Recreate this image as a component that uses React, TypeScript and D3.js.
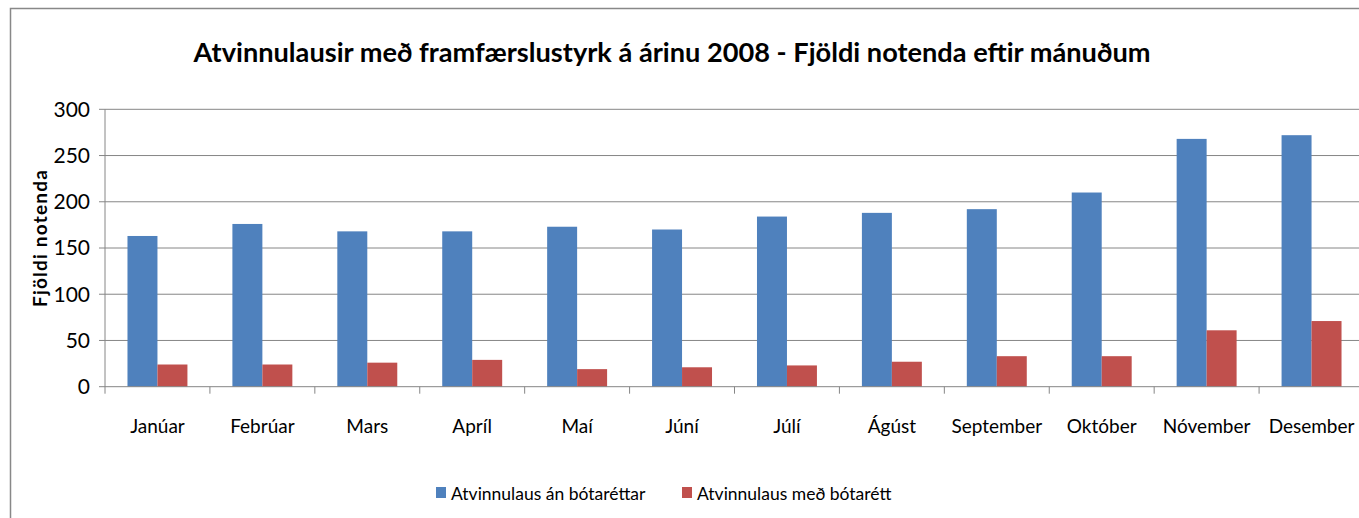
import React, { useEffect, useRef } from 'react';
import * as d3 from 'd3';

const months = ['Janúar', 'Febrúar', 'Mars', 'Apríl', 'Maí', 'Júní', 'Júlí', 'Ágúst', 'September', 'Október', 'Nóvember', 'Desember'];
const seriesNames = ['Atvinnulaus án bótaréttar', 'Atvinnulaus með bótarétt'];
const anBotarettar = [163, 176, 168, 168, 173, 170, 184, 188, 192, 210, 268, 272];
const medBotarett = [24, 24, 26, 29, 19, 21, 23, 27, 33, 33, 61, 71];
const yTicks = [0, 50, 100, 150, 200, 250, 300];
const colors = ['#4f81bd', '#c0504d'];

const App = () => {
  const svgRef = useRef(null);

  useEffect(() => {
    const svg = d3.select(svgRef.current);
    svg.selectAll('*').remove();

    const W = 1359, H = 518;
    const margin = { top: 109.3, left: 105, right: 1364, bottom: 386.7 };
    const font = 'Lato, Calibri, sans-serif';

    // outer frame, partly cut off at right/bottom like the original
    svg.append('rect')
      .attr('x', 10.5).attr('y', 8.5)
      .attr('width', W + 20).attr('height', H + 20)
      .attr('fill', '#fff').attr('stroke', '#888').attr('stroke-width', 1.5);

    const x = d3.scaleBand()
      .domain(months)
      .range([margin.left, margin.right])
      .paddingInner(0)
      .paddingOuter(0);

    const y = d3.scaleLinear()
      .domain([0, 300])
      .range([margin.bottom, margin.top]);

    // Grid lines
    svg.append('g')
      .selectAll('line')
      .data(yTicks.filter(d => d > 0))
      .enter()
      .append('line')
      .attr('x1', margin.left).attr('x2', margin.right)
      .attr('y1', d => y(d)).attr('y2', d => y(d))
      .attr('stroke', '#868686').attr('stroke-width', 1);

    // Bars: gap width 150% -> bar = band / 3.5
    const bw = x.bandwidth() / 3.5;
    const off = bw * 0.75;
    const data = months.map((m, i) => ({ m, v: [anBotarettar[i], medBotarett[i]] }));

    const groups = svg.append('g')
      .selectAll('g')
      .data(data)
      .enter()
      .append('g')
      .attr('transform', d => `translate(${x(d.m) + off},0)`);

    [0, 1].forEach(s => {
      groups.append('rect')
        .attr('x', s * bw)
        .attr('y', d => y(d.v[s]))
        .attr('width', bw)
        .attr('height', d => y(0) - y(d.v[s]))
        .attr('fill', colors[s]);
    });

    // Y axis
    svg.append('line')
      .attr('x1', margin.left).attr('x2', margin.left)
      .attr('y1', margin.top).attr('y2', margin.bottom)
      .attr('stroke', '#868686');
    svg.append('g')
      .selectAll('line')
      .data(yTicks)
      .enter()
      .append('line')
      .attr('x1', margin.left - 6).attr('x2', margin.left)
      .attr('y1', d => y(d)).attr('y2', d => y(d))
      .attr('stroke', '#868686');
    svg.append('g')
      .selectAll('text')
      .data(yTicks)
      .enter()
      .append('text')
      .attr('x', 90)
      .attr('y', d => y(d))
      .attr('dy', '0.35em')
      .attr('text-anchor', 'end')
      .style('font-family', font)
      .style('font-size', '21px')
      .attr('fill', '#000')
      .text(d => d);

    // X axis
    svg.append('line')
      .attr('x1', margin.left).attr('x2', margin.right)
      .attr('y1', margin.bottom).attr('y2', margin.bottom)
      .attr('stroke', '#868686');
    svg.append('g')
      .selectAll('line')
      .data(months.map(m => x(m)).concat([margin.right]))
      .enter()
      .append('line')
      .attr('x1', d => d).attr('x2', d => d)
      .attr('y1', margin.bottom).attr('y2', margin.bottom + 7)
      .attr('stroke', '#868686');
    svg.append('g')
      .selectAll('text')
      .data(months)
      .enter()
      .append('text')
      .attr('x', d => x(d) + x.bandwidth() / 2)
      .attr('y', 433)
      .attr('text-anchor', 'middle')
      .style('font-family', font)
      .style('font-size', '19px')
      .attr('fill', '#000')
      .text(d => d);

    // Y title
    svg.append('text')
      .attr('transform', `translate(47,238) rotate(-90)`)
      .attr('text-anchor', 'middle')
      .style('font-family', font)
      .style('font-size', '19px')
      .style('font-weight', 'bold')
      .style('letter-spacing', '1.2px')
      .attr('fill', '#000')
      .text('Fjöldi notenda');

    // Title
    svg.append('text')
      .attr('x', 672)
      .attr('y', 62)
      .attr('text-anchor', 'middle')
      .attr('textLength', 957)
      .attr('lengthAdjust', 'spacingAndGlyphs')
      .style('font-family', font)
      .style('font-size', '27px')
      .style('font-weight', 'bold')
      .attr('fill', '#000')
      .text('Atvinnulausir með framfærslustyrk á árinu 2008 - Fjöldi notenda eftir mánuðum');

    // Legend
    const legendX = [436, 682];
    seriesNames.forEach((name, i) => {
      const lg = svg.append('g').attr('transform', `translate(${legendX[i]},487)`);
      lg.append('rect')
        .attr('x', 0).attr('y', 0)
        .attr('width', 10).attr('height', 11)
        .attr('fill', colors[i]);
      lg.append('text')
        .attr('x', 15).attr('y', 13)
        .style('font-family', font)
        .style('font-size', '17.5px')
        .attr('fill', '#000')
        .text(name);
    });
  }, []);

  return (
    <div style={{ position: 'fixed', left: 0, top: 0, width: 1359, height: 518, overflow: 'hidden', background: '#fff' }}>
      <svg ref={svgRef} width={1359} height={518} />
    </div>
  );
};

export default App;
